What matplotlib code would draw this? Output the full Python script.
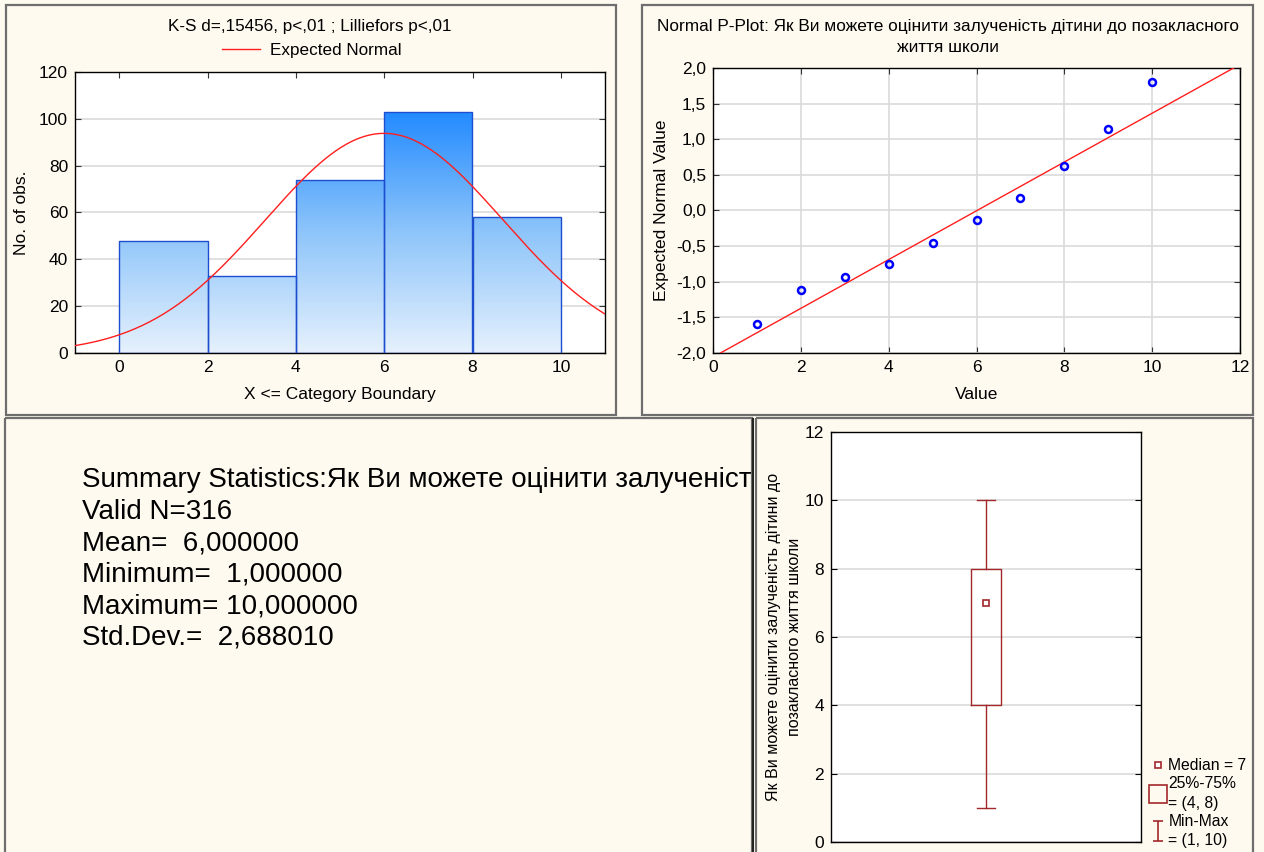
import numpy as np
import matplotlib
matplotlib.use("Agg")
import matplotlib.pyplot as plt
from matplotlib.patches import Rectangle
from matplotlib.lines import Line2D
from matplotlib.path import Path
from matplotlib.colors import LinearSegmentedColormap

plt.rcParams['font.family'] = ['Liberation Sans', 'DejaVu Sans']

# --- data ---
bin_edges = [0, 2, 4, 6, 8, 10]
bin_counts = [48, 33, 74, 103, 58]

n_valid = 316
mean_val = 6.0
min_val = 1.0
max_val = 10.0
std_val = 2.688010

pp_values = [1, 2, 3, 4, 5, 6, 7, 8, 9, 10]
pp_expected = [-1.59, -1.12, -0.94, -0.75, -0.45, -0.14, 0.17, 0.62, 1.14, 1.81]
pp_line_x = [0.17, 12.0]
pp_line_y = [-2.0, 2.05]

box_median = 7
box_q1, box_q3 = 4, 8
box_min, box_max = 1, 10

var_name = "Як Ви можете оцінити залученість дітини до позакласного життя школи"

W, H = 1264, 852
BG = '#FFFAF0'
GRID = '#DADADA'
BOXRED = '#A3282C'
FS = 12.5


def px(l, t, r, b):
    return [l / W, 1 - b / H, (r - l) / W, (b - t) / H]


def comma(v):
    return f'{v:.6f}'.replace('.', ',')


def style_axes(ax):
    ax.set_facecolor('white')
    for s in ax.spines.values():
        s.set_linewidth(1.0)
        s.set_color('black')
    ax.tick_params(direction='in', length=4, labelsize=FS, top=True, right=True,
                   pad=5, color='#333333')


fig = plt.figure(figsize=(W / 100, H / 100), dpi=100, facecolor=BG)

# panel frames
over = fig.add_axes([0, 0, 1, 1], zorder=-5)
over.set_xlim(0, W)
over.set_ylim(H, 0)
over.axis('off')
for (l, t, r, b) in [(6, 5, 616, 415), (642, 5, 1253, 415),
                     (5, 418, 752, 860), (756, 418, 1253, 860)]:
    over.add_patch(Rectangle((l, t), r - l, b - t, fill=False,
                             edgecolor='#6E6E6E', lw=1.6))
over.add_patch(Rectangle((753, 418), 0, 440, fill=False, edgecolor='#222222', lw=1.2))

# ---------------- histogram ----------------
ax1 = fig.add_axes(px(75, 72, 605, 353))
style_axes(ax1)
ax1.set_xlim(-1, 11)
ax1.set_ylim(0, 120)
ax1.set_xticks([0, 2, 4, 6, 8, 10])
ax1.set_yticks(range(0, 121, 20))
ax1.yaxis.grid(True, color=GRID, lw=1.2)
ax1.set_axisbelow(True)

cmap = LinearSegmentedColormap.from_list('bar', ['#E6F1FD', '#8CC4FA', '#1E88FF'])
grad = np.linspace(0, 1, 256).reshape(-1, 1)
widths = np.diff(bin_edges)
bars = ax1.bar(bin_edges[:-1], bin_counts, width=widths, align='edge',
               facecolor='none', edgecolor='#1D4ECF', lw=1.0, zorder=3)
for bar in bars:
    x0 = bar.get_x()
    im = ax1.imshow(grad, cmap=cmap, aspect='auto', origin='lower',
                    extent=[x0, x0 + bar.get_width(), 0, 105], zorder=2, vmin=0, vmax=1)
    im.set_clip_path(bar)

xs = np.linspace(-1, 11, 300)
bin_width = bin_edges[1] - bin_edges[0]
normal = n_valid * bin_width / (std_val * np.sqrt(2 * np.pi)) * np.exp(-0.5 * ((xs - mean_val) / std_val) ** 2)
ax1.plot(xs, normal, color='#FF1E1E', lw=1.0, zorder=4, label='Expected Normal')

ax1.set_xlabel('X <= Category Boundary', fontsize=FS, labelpad=9)
ax1.set_ylabel('No. of obs.', fontsize=FS, labelpad=7)
fig.text(310 / W, 1 - 27 / H, 'K-S d=,15456, p<,01 ; Lilliefors p<,01',
         ha='center', va='center', fontsize=12.3)
ax1.legend(loc='center', bbox_to_anchor=(312 / W, 1 - 50 / H), bbox_transform=fig.transFigure,
           frameon=False, fontsize=12.3, handlelength=2.2, handletextpad=0.6)

# ---------------- normal P-plot ----------------
ax2 = fig.add_axes(px(713, 68, 1240, 353))
style_axes(ax2)
ax2.set_xlim(0, 12)
ax2.set_ylim(-2, 2)
ax2.set_xticks(range(0, 13, 2))
yt = np.arange(-2, 2.01, 0.5)
ax2.set_yticks(yt)
ax2.set_yticklabels([f'{v:.1f}'.replace('.', ',') for v in yt])
ax2.grid(True, color=GRID, lw=1.2)
ax2.set_axisbelow(True)
ax2.plot(pp_line_x, pp_line_y, color='#FF1E1E', lw=1.0, zorder=3)
ax2.plot(pp_values, pp_expected, 'o', mfc='none', mec='#0000FF', ms=5, mew=1.8, zorder=4)
ax2.set_xlabel('Value', fontsize=FS, labelpad=9)
ax2.set_ylabel('Expected Normal Value', fontsize=FS, labelpad=5)
fig.text(948 / W, 1 - 37 / H,
         'Normal P-Plot: Як Ви можете оцінити залученість дітини до позакласного\nжиття школи',
         ha='center', va='center', fontsize=12.4, linespacing=1.45)

# ---------------- summary text ----------------
ax3 = fig.add_axes(px(5, 418, 752, 852))
ax3.set_xlim(0, 747)
ax3.set_ylim(434, 0)
ax3.axis('off')
summary_lines = [
    'Summary Statistics:' + var_name,
    f'Valid N={n_valid}',
    f'Mean=  {comma(mean_val)}',
    f'Minimum=  {comma(min_val)}',
    f'Maximum= {comma(max_val)}',
    f'Std.Dev.=  {comma(std_val)}',
]
for i, line in enumerate(summary_lines):
    ax3.text(77, 62 + i * 31.6, line, fontsize=20, va='center', ha='left', clip_on=True)

# ---------------- box plot ----------------
ax4 = fig.add_axes(px(831, 432, 1141, 842))
ax4.set_facecolor('white')
for s in ax4.spines.values():
    s.set_linewidth(1.0)
ax4.set_xlim(0, 2)
ax4.set_ylim(0, 12)
ax4.yaxis.grid(True, color=GRID, lw=1.2)
ax4.set_axisbelow(True)
stats = [{'med': box_median, 'q1': box_q1, 'q3': box_q3,
          'whislo': box_min, 'whishi': box_max, 'fliers': []}]
ax4.bxp(stats, positions=[1], widths=0.19, capwidths=0.11, showfliers=False,
        manage_ticks=False,
        boxprops=dict(color=BOXRED, lw=1.0),
        whiskerprops=dict(color=BOXRED, lw=1.0),
        capprops=dict(color=BOXRED, lw=1.0),
        medianprops=dict(visible=False))
ax4.plot([1], [box_median], 's', ms=4.5, mfc='white', mec=BOXRED, mew=1.2, zorder=5)
ax4.set_xticks([])
ax4.set_yticks(range(0, 13, 2))
ax4.tick_params(axis='y', direction='in', length=4, labelsize=FS, right=True, pad=5)
ax4.set_ylabel('Як Ви можете оцінити залученість дітини до\nпозакласного життя школи',
               fontsize=11.5, linespacing=1.5)
ax4.yaxis.label.set_va('center')
ax4.yaxis.set_label_coords(-0.152, 0.5)

ibeam = Path([(-0.5, -1), (0.5, -1), (0, -1), (0, 1), (-0.5, 1), (0.5, 1)],
             [Path.MOVETO, Path.LINETO, Path.MOVETO, Path.LINETO, Path.MOVETO, Path.LINETO])
handles = [
    Line2D([], [], ls='none', marker='s', ms=4, mfc='white', mec=BOXRED, mew=1.2),
    Line2D([], [], ls='none', marker='s', ms=13, mfc='none', mec=BOXRED, mew=1.2),
    Line2D([], [], ls='none', marker=ibeam, ms=14, mec=BOXRED, mew=1.2),
]
labels = [f'Median = {box_median}', f'25%-75%\n= ({box_q1}, {box_q3})',
          f'Min-Max\n= ({box_min}, {box_max})']
leg = ax4.legend(handles, labels, loc='lower left', bbox_to_anchor=(1141 / W, 1 - 859 / H),
                 bbox_transform=fig.transFigure, frameon=False, fontsize=11.3,
                 handlelength=0.8, handletextpad=0.25, labelspacing=0.2, borderpad=0.2)
for t in leg.get_texts():
    t.set_linespacing(1.35)

fig.savefig('out.png', dpi=100, facecolor=BG)
